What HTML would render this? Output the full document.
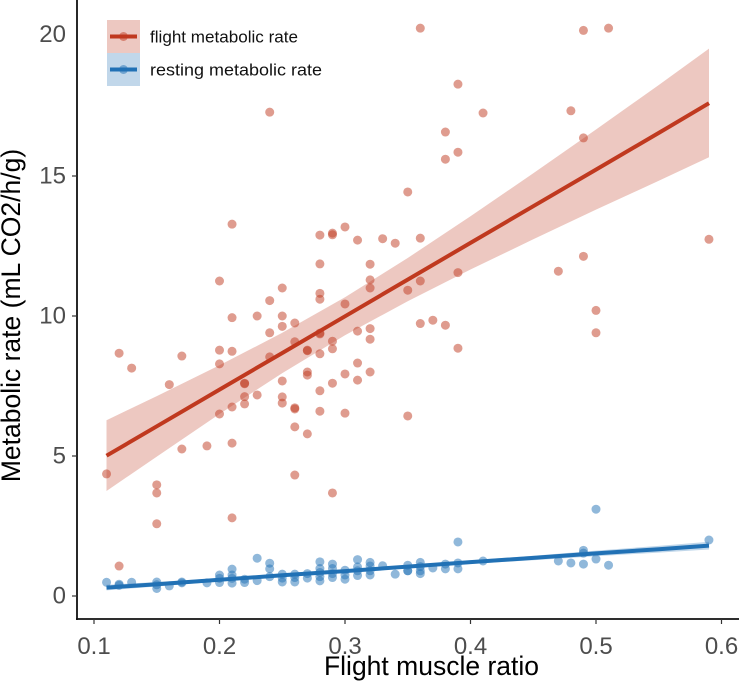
<!DOCTYPE html>
<html lang="en">
<head>
<meta charset="utf-8">
<title>Metabolic rate vs flight muscle ratio</title>
<style>
html,body{margin:0;padding:0;background:#fff;}
svg{display:block;font-family:"Liberation Sans",Arial,sans-serif;}
</style>
</head>
<body>
<svg id="chart" xmlns="http://www.w3.org/2000/svg" width="746" height="683" viewBox="0 0 746 683"></svg>
<script>
const xTicks = [0.1, 0.2, 0.3, 0.4, 0.5, 0.6];
const yTicks = [0, 5, 10, 15];
const yTopLabel = 20;

const flightX = [0.24,0.21,0.20,0.25,0.28,0.29,0.29,0.30,0.31,0.33,0.34,0.28,0.32,0.32,0.32,0.28,0.28,
  0.36,0.49,0.51,0.39,0.38,0.41,0.48,0.49,0.39,0.38,0.35,0.36,0.59,0.49,0.47,0.39,0.36,0.35,
  0.24,0.30,0.21,0.23,0.25,0.25,0.26,0.24,0.31,0.32,0.32,0.26,0.28,0.28,0.29,0.29,0.27,0.27,0.28,0.20,0.21,0.12,0.17,0.13,0.20,0.24,
  0.31,0.32,0.30,0.31,0.29,0.28,0.27,0.27,0.25,0.22,0.22,0.16,0.23,0.22,0.25,0.25,0.22,0.21,0.26,0.26,0.20,0.28,0.30,0.26,0.27,0.21,0.19,0.17,
  0.11,0.15,0.15,0.26,0.29,0.21,0.15,0.12,0.36,0.37,0.38,0.39,0.35,0.50,0.50];
const flightY = [17.28,13.28,11.25,11.0,12.89,12.96,12.9,13.18,12.71,12.76,12.6,11.86,11.85,11.29,11.0,10.81,10.6,
  20.28,20.2,20.28,18.28,16.57,17.25,17.33,16.36,15.85,15.6,14.43,12.78,12.74,12.13,11.6,11.55,11.25,10.92,
  10.55,10.43,9.94,10.0,10.0,9.63,9.75,9.4,9.46,9.55,9.17,9.08,9.39,9.36,9.1,8.83,8.76,8.78,8.65,8.78,8.74,8.67,8.57,8.14,8.29,8.54,
  8.32,8.0,7.93,7.71,7.6,7.33,8.0,7.89,7.68,7.6,7.58,7.55,7.18,7.12,7.11,6.89,6.86,6.75,6.72,6.68,6.5,6.6,6.53,6.04,5.79,5.46,5.36,5.25,
  4.36,3.97,3.68,4.32,3.68,2.79,2.58,1.07,9.73,9.85,9.67,8.85,6.43,10.2,9.4];

const restingX = [0.11,0.12,0.12,0.13,0.15,0.15,0.15,0.16,0.17,0.17,0.19,0.20,0.20,0.20,0.21,0.21,0.21,0.21,0.22,0.22,
  0.23,0.23,0.24,0.24,0.24,0.25,0.25,0.25,0.26,0.26,0.26,0.27,0.27,0.28,0.28,0.28,0.28,0.28,
  0.29,0.29,0.29,0.29,0.30,0.30,0.30,0.31,0.31,0.31,0.31,0.32,0.32,0.32,0.32,0.33,0.34,0.35,0.35,0.35,
  0.36,0.36,0.36,0.36,0.37,0.38,0.38,0.39,0.39,0.39,0.41,0.47,0.48,0.49,0.49,0.49,0.50,0.50,0.51,0.59];
const restingY = [0.49,0.42,0.38,0.49,0.5,0.4,0.27,0.36,0.5,0.47,0.47,0.75,0.63,0.48,0.96,0.75,0.63,0.46,0.6,0.48,
  1.35,0.55,1.17,0.97,0.69,0.78,0.64,0.5,0.78,0.66,0.5,0.8,0.64,1.22,0.98,0.84,0.69,0.54,
  1.14,0.98,0.8,0.66,0.92,0.75,0.6,1.3,1.04,0.9,0.73,1.2,1.07,0.9,0.75,1.08,0.78,1.1,0.9,0.9,
  1.2,1.05,0.9,0.8,1.0,1.14,0.97,1.93,1.18,0.97,1.25,1.25,1.18,1.63,1.53,1.14,3.1,1.32,1.1,2.0];

const bandX = [0.11,0.15,0.20,0.25,0.30,0.35,0.40,0.45,0.50,0.55,0.59];
const flightFit = [5.01,6.06,7.37,8.68,9.99,11.30,12.61,13.92,15.23,16.54,17.6];
const flightUpper = [6.28,7.14,8.24,9.40,10.67,12.07,13.56,15.10,16.66,18.25,19.55];
const flightLower = [3.75,4.98,6.50,7.96,9.31,10.53,11.66,12.74,13.80,14.83,15.67];
const restingFit = [0.30,0.42,0.58,0.74,0.89,1.05,1.21,1.36,1.52,1.67,1.8];
const restingUpper = [0.40,0.50,0.64,0.79,0.94,1.10,1.27,1.44,1.62,1.79,1.94];
const restingLower = [0.20,0.34,0.52,0.69,0.84,1.00,1.15,1.28,1.42,1.55,1.66];

const FLIGHT = '#c0391f';
const RESTING = '#2171b5';
const NS = 'http://www.w3.org/2000/svg';
const svg = document.getElementById('chart');

const xPos = v => 94 + (v - 0.1) * 1255;
const yPos = v => 596 - v * 28;

function make(tag, attrs, parent) {
  const el = document.createElementNS(NS, tag);
  for (const k in attrs) el.setAttribute(k, attrs[k]);
  (parent || svg).appendChild(el);
  return el;
}

// scatter points
const flightPoints = make('g', {fill: FLIGHT, 'fill-opacity': 0.5});


flightX.forEach((x, i) => {
  const c = make('circle', {cx: xPos(x), cy: yPos(flightY[i]), r: 4.5}, flightPoints);
  
  
});
const restingPoints = make('g', {fill: RESTING, 'fill-opacity': 0.5});


restingX.forEach((x, i) => {
  const c = make('circle', {cx: xPos(x), cy: yPos(restingY[i]), r: 4.5}, restingPoints);
  
  
});

// confidence bands and fit lines
function bandPath(up, low) {
  const top = bandX.map((x, i) => xPos(x).toFixed(1) + ',' + yPos(up[i]).toFixed(1));
  const bot = bandX.map((x, i) => xPos(x).toFixed(1) + ',' + yPos(low[i]).toFixed(1)).reverse();
  return top.concat(bot).join(' ');
}
function linePath(fit) {
  return bandX.map((x, i) => xPos(x).toFixed(1) + ',' + yPos(fit[i]).toFixed(1)).join(' ');
}
const flightBand = make('polygon', {points: bandPath(flightUpper, flightLower), fill: FLIGHT, 'fill-opacity': 0.28});


const restingBand = make('polygon', {points: bandPath(restingUpper, restingLower), fill: RESTING, 'fill-opacity': 0.28});


const flightLine = make('polyline', {points: linePath(flightFit), fill: 'none', stroke: FLIGHT, 'stroke-width': 4});


const restingLine = make('polyline', {points: linePath(restingFit), fill: 'none', stroke: RESTING, 'stroke-width': 4});



// axes
const yAxis = make('line', {x1: 77, y1: 0, x2: 77, y2: 620, stroke: '#111', 'stroke-width': 1.8});


const xAxis = make('line', {x1: 76, y1: 619, x2: 739, y2: 619, stroke: '#111', 'stroke-width': 1.8});



xTicks.forEach(t => {
  const tick = make('line', {x1: xPos(t), y1: 619, x2: xPos(t), y2: 624, stroke: '#333', 'stroke-width': 1.2});
  
  
  const lab = make('text', {x: xPos(t), y: 654, 'text-anchor': 'middle', 'font-size': 24, fill: '#4d4d4d'});
  lab.textContent = t.toFixed(1);
  
  
});
yTicks.forEach(t => {
  const tick = make('line', {x1: 72, y1: yPos(t), x2: 77, y2: yPos(t), stroke: '#333', 'stroke-width': 1.2});
  
  
  const lab = make('text', {x: 66, y: yPos(t) + 7.5, 'text-anchor': 'end', 'font-size': 24, fill: '#4d4d4d'});
  lab.textContent = t;
  
  
});
const topLab = make('text', {x: 66, y: 42, 'text-anchor': 'end', 'font-size': 24, fill: '#4d4d4d'});
topLab.textContent = yTopLabel;


</script>
<svg style="position:absolute;left:0;top:0;" xmlns="http://www.w3.org/2000/svg" width="746" height="683" viewBox="0 0 746 683">
  <text x="431.5" y="675" text-anchor="middle" font-size="26.5" fill="#000" font-family="Liberation Sans, Arial, sans-serif">Flight muscle ratio</text>
  <text transform="translate(20,315.5) rotate(-90)" text-anchor="middle" font-size="26.5" fill="#000" font-family="Liberation Sans, Arial, sans-serif">Metabolic rate (mL CO2/h/g)</text>
  <g font-family="Liberation Sans, Arial, sans-serif">
    <g>
      <rect x="107" y="20" width="33" height="33" fill="#c0391f" fill-opacity="0.28"/>
      <circle cx="123.5" cy="36.5" r="4.5" fill="#c0391f" fill-opacity="0.5"/>
      <line x1="110" y1="36.5" x2="137" y2="36.5" stroke="#c0391f" stroke-width="4"/>
      <text x="150" y="42.5" font-size="17" textLength="148" lengthAdjust="spacingAndGlyphs" fill="#111">flight metabolic rate</text>
    </g>
    <g>
      <rect x="107" y="53" width="33" height="33" fill="#2171b5" fill-opacity="0.28"/>
      <circle cx="123.5" cy="69.5" r="4.5" fill="#2171b5" fill-opacity="0.5"/>
      <line x1="110" y1="69.5" x2="137" y2="69.5" stroke="#2171b5" stroke-width="4"/>
      <text x="150" y="75.5" font-size="17" textLength="172" lengthAdjust="spacingAndGlyphs" fill="#111">resting metabolic rate</text>
    </g>
  </g>
</svg>
</body>
</html>
